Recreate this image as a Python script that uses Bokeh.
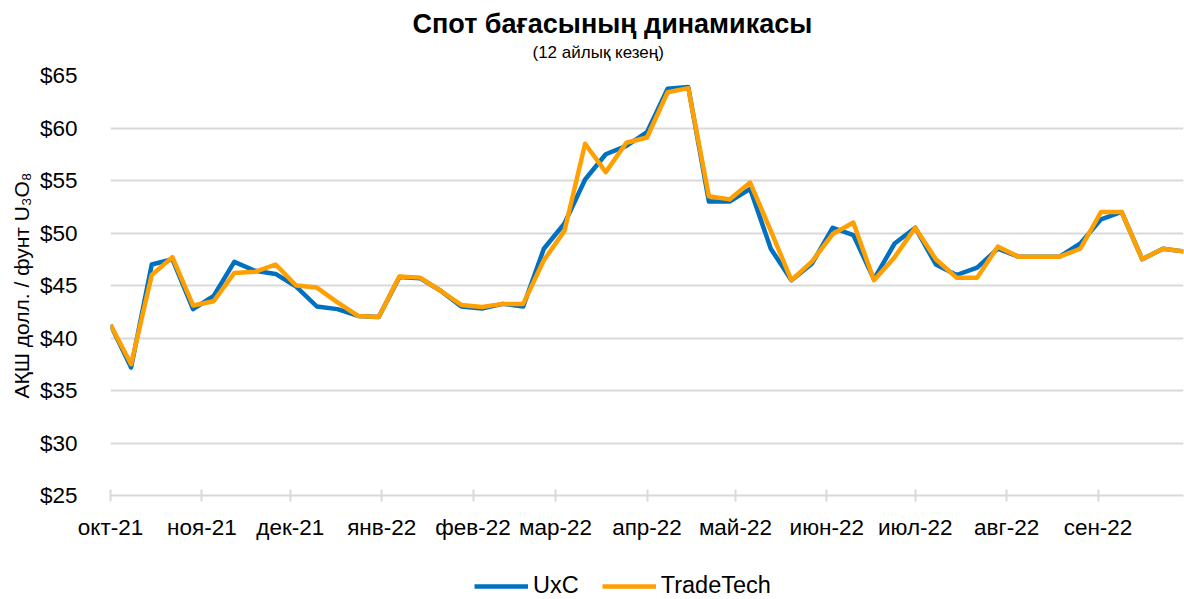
import pandas as pd
from bokeh.plotting import figure
from bokeh.layouts import column
from bokeh.models import (Range1d, FixedTicker, Title, Legend, LegendItem,
                          ColumnDataSource, NumeralTickFormatter)
from bokeh.embed import file_html
from bokeh.resources import INLINE

# ---- data ----
dates = pd.date_range("2021-10-01", periods=53, freq="7D")
uxc = [41.25, 37.2, 47.0, 47.5, 42.75, 44.0, 47.25, 46.4, 46.1, 44.9,
       43.0, 42.75, 42.1, 42.0, 45.8, 45.7, 44.5, 43.0, 42.8, 43.25,
       43.0, 48.5, 50.9, 55.1, 57.5, 58.3, 59.6, 63.75, 63.9, 53.0,
       53.0, 54.2, 48.5, 45.5, 47.1, 50.5, 49.8, 45.6, 49.0, 50.5,
       47.0, 46.0, 46.7, 48.5, 47.75, 47.75, 47.75, 49.0, 51.3, 52.0,
       47.5, 48.5, 48.25]
tradetech = [41.25, 37.5, 46.0, 47.7, 43.1, 43.5, 46.2, 46.3, 47.0, 45.0,
             44.8, 43.4, 42.1, 42.0, 45.85, 45.75, 44.5, 43.15, 42.95, 43.25,
             43.25, 47.4, 50.2, 58.5, 55.8, 58.6, 59.1, 63.4, 63.8, 53.5,
             53.2, 54.8, 50.2, 45.5, 47.3, 49.9, 51.0, 45.5, 47.7, 50.5,
             47.5, 45.75, 45.75, 48.7, 47.75, 47.75, 47.75, 48.5, 52.0, 52.0,
             47.5, 48.5, 48.25]
series_names = ["UxC", "TradeTech"]
month_starts = ["2021-10-01", "2021-11-01", "2021-12-01", "2022-01-01",
                "2022-02-01", "2022-03-01", "2022-04-01", "2022-05-01",
                "2022-06-01", "2022-07-01", "2022-08-01", "2022-09-01"]
month_labels = ["окт-21", "ноя-21", "дек-21", "янв-22", "фев-22", "мар-22",
                "апр-22", "май-22", "июн-22", "июл-22", "авг-22", "сен-22"]
y_ticks = [25, 30, 35, 40, 45, 50, 55, 60, 65]

FONT = "Liberation Sans"
BLUE = "#0070C0"
ORANGE = "#FFA000"

def ms(d):
    return pd.Timestamp(d).value / 1e6

src = ColumnDataSource(dict(x=[ms(d) for d in dates], uxc=uxc, tt=tradetech))

p = figure(width=1184, height=559, output_backend="svg", toolbar_location=None,
           x_range=Range1d(ms("2021-10-01"), ms("2022-09-30")),
           y_range=Range1d(25, 65),
           min_border_left=110, min_border_right=1,
           min_border_top=75, min_border_bottom=64)
p.outline_line_color = None
p.background_fill_color = "white"
p.border_fill_color = "white"

# titles (a blank spacer title keeps the subtitle off the plot area)
p.add_layout(Title(text=" ", text_font_size="8px", text_line_height=1.0,
                   standoff=1), "above")
p.add_layout(Title(text="(12 айлық кезең)", align="left", offset=422,
                   text_font=FONT, text_font_size="17px",
                   text_font_style="normal", text_color="black",
                   text_line_height=1.0, standoff=4), "above")
p.add_layout(Title(text="Спот бағасының динамикасы", align="left",
                   offset=302, text_font=FONT, text_font_size="27px",
                   text_font_style="bold", text_color="black",
                   text_line_height=0.9, standoff=0), "above")

p.line("x", "uxc", source=src, line_color=BLUE, line_width=4.5,
       line_join="round")
p.line("x", "tt", source=src, line_color=ORANGE, line_width=4.5,
       line_join="round")

# x axis
xt = [ms(d) for d in month_starts]
p.xaxis.ticker = FixedTicker(ticks=xt)
p.xaxis.major_label_overrides = {t: l for t, l in zip(xt, month_labels)}
p.xaxis.axis_line_color = "#d9d9d9"
p.xaxis.axis_line_width = 2
p.xaxis.major_tick_line_color = "#d9d9d9"
p.xaxis.major_tick_line_width = 2
p.xaxis.major_tick_in = 6
p.xaxis.major_tick_out = 6
p.xaxis.minor_tick_line_color = None
p.xaxis.major_label_standoff = 13
p.xaxis.major_label_text_font = FONT
p.xaxis.major_label_text_font_size = "22.5px"
p.xaxis.major_label_text_color = "black"

# y axis
p.yaxis.ticker = FixedTicker(ticks=y_ticks)
p.yaxis.formatter = NumeralTickFormatter(format="$0")
p.yaxis.axis_line_color = None
p.yaxis.major_tick_line_color = None
p.yaxis.minor_tick_line_color = None
p.yaxis.major_label_standoff = 27
p.yaxis.major_label_text_font = FONT
p.yaxis.major_label_text_font_size = "22.5px"
p.yaxis.major_label_text_color = "black"
p.yaxis.axis_label = "АҚШ долл. / фунт U₃O₈"
p.yaxis.axis_label_text_font = FONT
p.yaxis.axis_label_text_font_size = "21px"
p.yaxis.axis_label_text_font_style = "normal"
p.yaxis.axis_label_text_color = "black"
p.yaxis.axis_label_standoff = 4

p.xgrid.grid_line_color = None
p.ygrid.grid_line_color = "#d9d9d9"
p.ygrid.grid_line_width = 2

# legend strip: a second figure whose ranges keep the series lines out of view
lg = figure(width=1184, height=40, output_backend="svg", toolbar_location=None,
            x_range=Range1d(0, 1), y_range=Range1d(0, 1),
            x_axis_location=None, y_axis_location=None,
            min_border_left=0, min_border_right=0,
            min_border_top=0, min_border_bottom=0)
lg.grid.visible = False
lg.outline_line_color = None
lg.border_fill_color = "white"
l1 = lg.line("x", "uxc", source=src, line_color=BLUE, line_width=4.5)
l2 = lg.line("x", "tt", source=src, line_color=ORANGE, line_width=4.5)
legend = Legend(items=[LegendItem(label=series_names[0], renderers=[l1]),
                       LegendItem(label=series_names[1], renderers=[l2])],
                orientation="horizontal", location=(364, 0),
                label_text_font=FONT, label_text_font_size="23.5px",
                label_text_color="black", glyph_width=54, glyph_height=20,
                spacing=23, label_standoff=5, border_line_color=None,
                background_fill_alpha=0, margin=0, padding=0)
lg.add_layout(legend)

layout = column(p, lg, spacing=0)
open("out.html", "w").write(file_html(layout, INLINE))
